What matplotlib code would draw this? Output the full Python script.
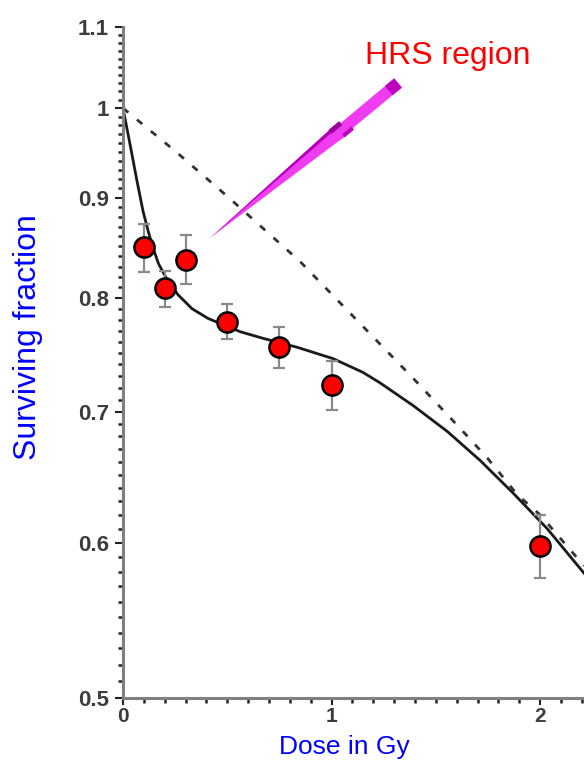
import numpy as np
import matplotlib
matplotlib.use("Agg")
import matplotlib.pyplot as plt
from matplotlib.patches import Polygon
from matplotlib.ticker import FixedLocator, NullFormatter

plt.rcParams['font.family'] = ['Liberation Sans', 'DejaVu Sans']

# measured points
dose = [0.1, 0.2, 0.3, 0.5, 0.75, 1.0, 2.0]
surv = [0.849, 0.809, 0.837, 0.778, 0.755, 0.722, 0.598]
err = [0.024, 0.017, 0.024, 0.016, 0.018, 0.021, 0.022]

# induced-repair fit (solid)
fit_dose = [0.0, 0.034, 0.067, 0.096, 0.12, 0.14, 0.17, 0.21, 0.264, 0.331,
            0.408, 0.561, 0.671, 0.835, 1.007, 1.151, 1.233, 1.391, 1.554,
            1.712, 1.871, 2.034, 2.21]
fit_surv = [1.0, 0.958, 0.918, 0.886, 0.866, 0.851, 0.833, 0.818, 0.803, 0.790,
            0.781, 0.769, 0.763, 0.755, 0.745, 0.733, 0.724, 0.705, 0.684,
            0.661, 0.636, 0.610, 0.579]

# LQ extrapolation (dashed)
lq_dose = [0.0, 0.259, 0.513, 0.849, 1.391, 1.602, 1.746, 1.89, 2.0, 2.21]
lq_surv = [1.0, 0.949, 0.899, 0.835, 0.728, 0.689, 0.663, 0.635, 0.62, 0.584]

y_ticks = [0.5, 0.6, 0.7, 0.8, 0.9, 1.0, 1.1]
y_labels = ['0.5', '0.6', '0.7', '0.8', '0.9', '1', '1.1']
x_ticks = [0, 1, 2]

W, H = 584, 760
fig = plt.figure(figsize=(W / 100, H / 100), dpi=100)
ax = fig.add_axes([123 / W, 1 - 698 / H, (W - 123) / W, (698 - 27) / H])

ax.set_yscale('log')
ax.set_xlim(0, 2.21)
ax.set_ylim(0.5, 1.1)

ax.plot(lq_dose, lq_surv, color='#333333', lw=2.0, ls=(0, (2.5, 4)))
ax.plot(fit_dose, fit_surv, color='#1a1a1a', lw=2.0, solid_joinstyle='round')
ax.errorbar(dose, surv, yerr=err, fmt='none', ecolor='#8a8a8a',
            elinewidth=1.6, capsize=4, capthick=1.6)
ax.plot(dose, surv, 'o', ms=14.5, mfc='#ff0000', mec='black', mew=1.8, zorder=5)

for s in ['top', 'right']:
    ax.spines[s].set_visible(False)
for s in ['left', 'bottom']:
    ax.spines[s].set_color('#808080')
    ax.spines[s].set_linewidth(2.2)

ax.yaxis.set_major_locator(FixedLocator(y_ticks))
ax.set_yticklabels(y_labels)
ax.yaxis.set_minor_locator(FixedLocator(np.arange(0.5, 1.1, 0.01)))
ax.yaxis.set_minor_formatter(NullFormatter())
ax.xaxis.set_major_locator(FixedLocator(x_ticks))
ax.set_xticklabels([str(v) for v in x_ticks])
ax.xaxis.set_minor_locator(FixedLocator(np.arange(0, 2.21, 0.1)))

ax.tick_params(which='major', direction='out', length=6, width=1.5,
               color='#222222', labelsize=16, labelcolor='#3c3c3c', pad=4)
ax.tick_params(which='minor', direction='out', length=3.5, width=1.8,
               color='#222222')
ax.tick_params(axis='x', which='major', length=5, pad=1.5, labelsize=15)
for lab in ax.get_xticklabels() + ax.get_yticklabels():
    lab.set_fontweight('bold')

fig.text(28 / W, 1 - 337 / H, 'Surviving fraction', rotation=90,
         color='#0000ff', fontsize=23, ha='center', va='center')
fig.text(344 / W, 1 - 754 / H, 'Dose in Gy', color='#0000ff',
         fontsize=19, ha='center', va='baseline')
fig.text(365 / W, 1 - 64 / H, 'HRS region', color='#ff0000',
         fontsize=23, ha='left', va='baseline')

# magenta pointer (pixel geometry, y down)
tip = np.array([210.0, 238.0])
tail = np.array([398.0, 83.0])
u = (tail - tip) / np.linalg.norm(tail - tip)
n = np.array([-u[1], u[0]])
L = np.linalg.norm(tail - tip)


def px(p):
    return (p[0] / W, 1 - p[1] / H)


def at(s, w):
    return px(tip + s * u + w * n)


body = [at(0, 0), at(165, -7.5), at(168, -7.5), at(170, -5.5), at(L, -6),
        at(L, 6), at(172, 6), at(170, 8), at(160, 7)]
fig.patches.append(Polygon(body, closed=True, transform=fig.transFigure,
                           fc='#f03cf0', ec='none'))
shade = [at(0, 0), at(165, -7.5), at(165, -4), at(0, 0)]
fig.patches.append(Polygon(shade, closed=True, transform=fig.transFigure,
                           fc='#b400b4', ec='none'))
notch = [at(160, -8), at(174, -8), at(174, -3), at(160, -3)]
fig.patches.append(Polygon(notch, closed=True, transform=fig.transFigure,
                           fc='#990099', ec='none'))
notch2 = [at(168, 4), at(180, 4), at(180, 8), at(168, 8)]
fig.patches.append(Polygon(notch2, closed=True, transform=fig.transFigure,
                           fc='#c000c0', ec='none'))
cap = [at(L - 12, -6), at(L, -6), at(L, 6), at(L - 12, 6)]
fig.patches.append(Polygon(cap, closed=True, transform=fig.transFigure,
                           fc='#c000c0', ec='none'))

fig.savefig('out.png', dpi=100)
